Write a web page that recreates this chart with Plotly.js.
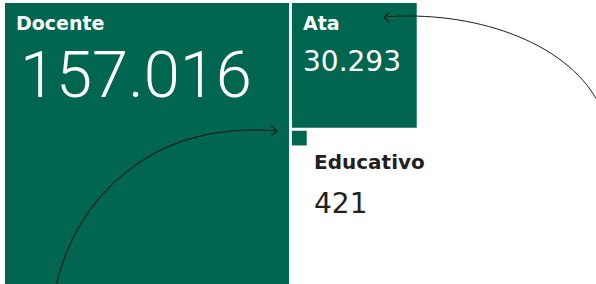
<!DOCTYPE html>
<html><head><meta charset="utf-8">
<script src="https://cdn.plot.ly/plotly-3.0.1.min.js"></script>
<style>html,body{margin:0;padding:0;background:#fff;}#chart{width:596px;height:284px;}</style>
</head><body><div id="chart"></div>
<script>
// Data
const categories = ["Docente", "Ata", "Educativo"];
const values = [157016, 30293, 421];
const valueLabels = ["157.016", "30.293", "421"];

// Styling
const GREEN = "#00664f";
const DARK = "#231f20";
const k = 0.7167;         // px per sqrt-unit
const gap = 3;
const side = values.map(v => Math.sqrt(v) * k);

// Square positions derived from sizes
const sq = [];
sq[0] = {x0: 5, y0: 3};
sq[0].x1 = sq[0].x0 + side[0]; sq[0].y1 = sq[0].y0 + side[0];
sq[1] = {x0: sq[0].x1 + gap, y0: 3};
sq[1].x1 = sq[1].x0 + side[1]; sq[1].y1 = sq[1].y0 + side[1];
sq[2] = {x0: sq[1].x0, y0: sq[1].y1 + gap};
sq[2].x1 = sq[2].x0 + side[2]; sq[2].y1 = sq[2].y0 + side[2];

const shapes = sq.map(s => ({
  type: "rect", xref: "x", yref: "y",
  x0: s.x0, x1: s.x1, y0: s.y0, y1: s.y1,
  fillcolor: GREEN, line: {width: 0}, layer: "below"
}));

// Decorative arrows
const arrowLine = {color: DARK, width: 1.2};
shapes.push({type: "path", xref: "x", yref: "y", path: "M 56,286 C 75,200 150,120 277,131", line: arrowLine});
shapes.push({type: "path", xref: "x", yref: "y", path: "M 271,125.5 L 277,131 L 271,136", line: arrowLine});
shapes.push({type: "path", xref: "x", yref: "y", path: "M 598,102 C 565,40 470,10 384,17", line: {color: DARK, width: 1}});
shapes.push({type: "path", xref: "x", yref: "y", path: "M 389.5,12.5 L 384,17.3 L 389.5,22.5", line: arrowLine});

const SANS = "'DejaVu Sans', sans-serif";
const BIG = "Roboto, 'Open Sans', sans-serif";
function ann(x, y, text, size, color, weight, family) {
  return {xref: "x", yref: "y", x: x, y: y, text: text, showarrow: false,
    xanchor: "left", yanchor: "top",
    font: {family: family, size: size, color: color, weight: weight}};
}
const annotations = [
  ann(sq[0].x0 + 9, sq[0].y0 + 7, "<b>" + categories[0] + "</b>", 19, "#ffffff", 700, SANS),
  ann(sq[0].x0 + 13, sq[0].y0 + 32, valueLabels[0], 65, "#ffffff", 300, BIG),
  ann(sq[1].x0 + 9, sq[1].y0 + 7, "<b>" + categories[1] + "</b>", 19, "#ffffff", 700, SANS),
  ann(sq[1].x0 + 9, sq[1].y0 + 40, valueLabels[1], 28, "#ffffff", 400, SANS),
  ann(sq[2].x0 + 20, sq[2].y1 + 3, "<b>" + categories[2] + "</b>", 20, DARK, 700, SANS),
  ann(sq[2].x0 + 20, sq[2].y1 + 40, valueLabels[2], 28, DARK, 400, SANS)
];

const layout = {
  width: 596, height: 284,
  margin: {l: 0, r: 0, t: 0, b: 0},
  paper_bgcolor: "#ffffff", plot_bgcolor: "#ffffff",
  xaxis: {range: [0, 596], visible: false, fixedrange: true},
  yaxis: {range: [284, 0], visible: false, fixedrange: true},
  shapes: shapes, annotations: annotations, showlegend: false
};
Plotly.newPlot("chart", [{type: "scatter", x: [], y: [], hoverinfo: "skip"}], layout, {displayModeBar: false, staticPlot: true});
</script></body></html>
